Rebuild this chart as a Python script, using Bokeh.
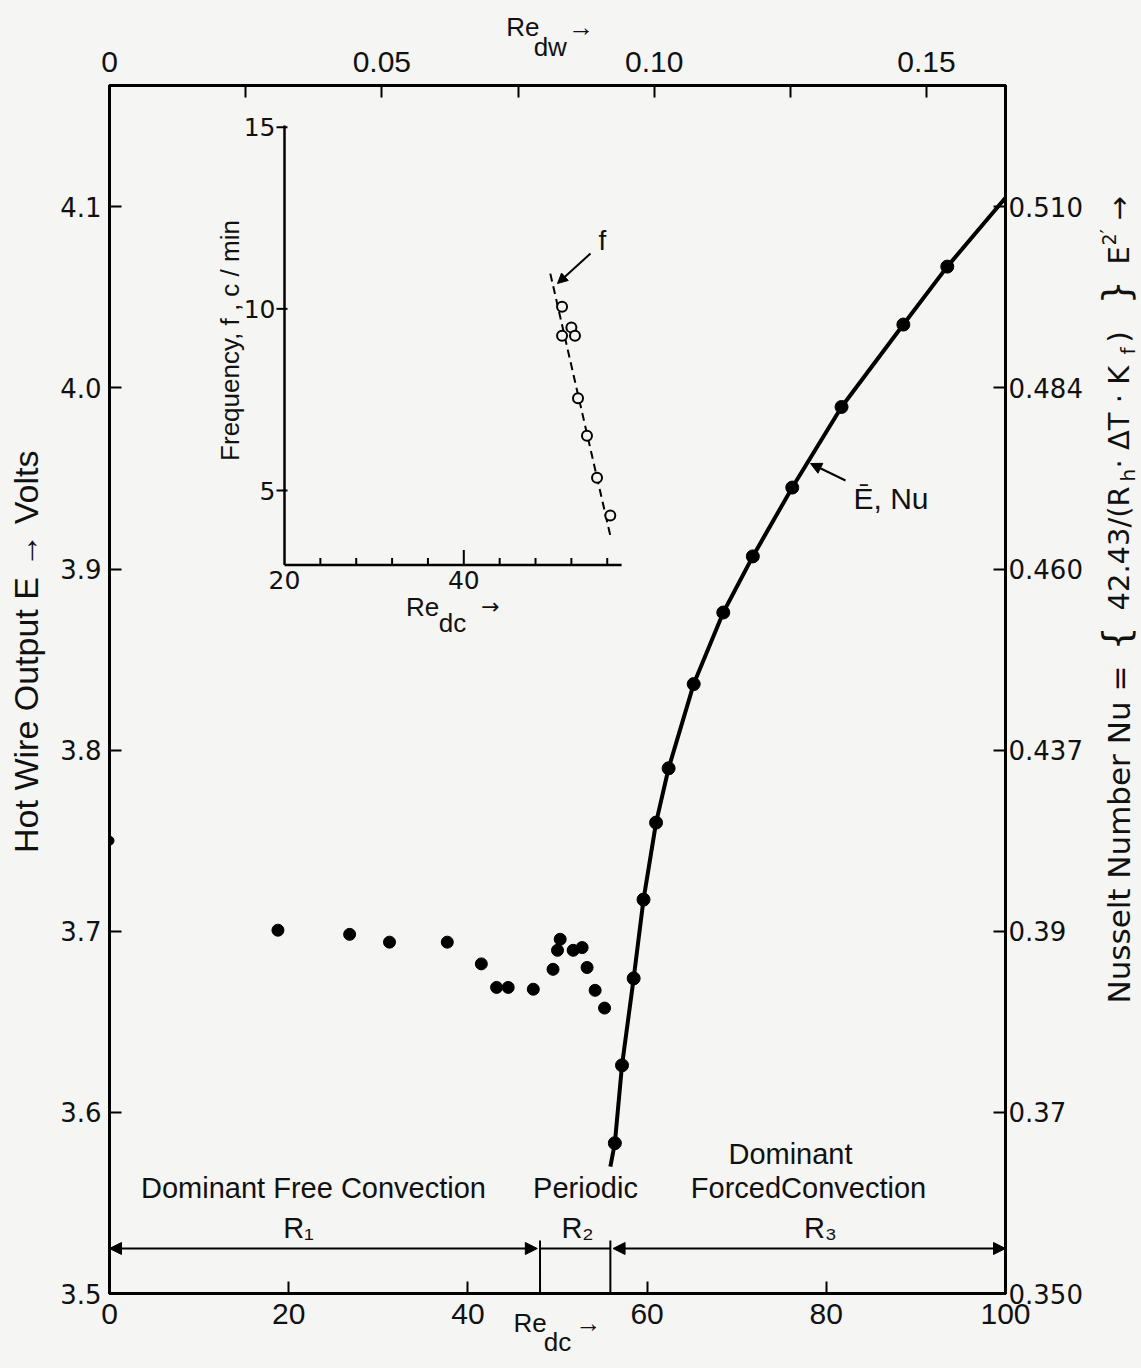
import numpy as np
from bokeh.plotting import figure
from bokeh.layouts import row
from bokeh.models import Range1d, LinearAxis, FixedTicker, Label, Arrow, NormalHead
from bokeh.core.properties import value
from bokeh.embed import file_html
from bokeh.resources import INLINE

# ---------------- data ----------------
re_dc_ticks = [0, 20, 40, 60, 80, 100]
e_ticks = [3.5, 3.6, 3.7, 3.8, 3.9, 4.0, 4.1]
e_labels = ["3.5", "3.6", "3.7", "3.8", "3.9", "4.0", "4.1"]
nu_labels = ["0.350", "0.37", "0.39", "0.437", "0.460", "0.484", "0.510"]
re_dw_ticks = [0, 0.025, 0.05, 0.075, 0.10, 0.125, 0.15]
re_dw_labels = ["0", "", "0.05", "", "0.10", "", "0.15"]

# free-convection / periodic region points (Re_dc, E volts)
free_re = [18.8, 26.8, 31.25, 37.7, 41.5, 43.2, 44.5, 47.3, 49.5, 50.0, 50.3, 51.75, 52.75, 53.3, 54.2, 55.25]
free_e = [3.7006, 3.6983, 3.694, 3.694, 3.682, 3.669, 3.669, 3.668, 3.679, 3.6895, 3.6956, 3.6895, 3.691, 3.680, 3.6674, 3.6576]
# forced-convection points on the mean curve
forced_re = [56.4, 57.2, 58.5, 59.6, 61.0, 62.4, 65.2, 68.5, 71.8, 76.2, 81.7, 88.6, 93.5]
forced_e = [3.583, 3.626, 3.674, 3.7175, 3.760, 3.790, 3.8365, 3.876, 3.907, 3.945, 3.9895, 4.035, 4.067]
# mean curve E-bar, Nu
curve_re = [55.9, 56.4, 57.2, 58.5, 59.6, 61.0, 62.4, 65.2, 68.5, 71.8, 76.2, 81.7, 88.6, 93.5, 100.0]
curve_e = [3.570, 3.583, 3.626, 3.674, 3.7175, 3.760, 3.790, 3.8365, 3.876, 3.907, 3.945, 3.9895, 4.035, 4.067, 4.105]
# point at zero flow
zero_re = [0.0]
zero_e = [3.75]
# regime boundaries (Re_dc)
region_bounds = [0.0, 48.05, 55.9, 100.0]

# inset: frequency vs Re_dc
inset_re = [50.96, 50.96, 52.0, 52.4, 52.74, 53.74, 54.86, 56.34]
inset_f = [10.06, 9.26, 9.49, 9.26, 7.54, 6.51, 5.35, 4.31]
inset_fit_re = [49.65, 56.34]
inset_fit_f = [10.97, 3.76]
inset_x_major = [20, 40]
inset_x_minor = [24, 28, 32, 36, 44, 48, 52, 56]
inset_f_ticks = [5, 10, 15]
inset_x_extent = [20.0, 57.6]
inset_f_extent = [2.95, 15.05]

# ---------------- layout constants ----------------
BG = "#f5f5f3"
W, H = 1141, 1368
PW = 1085                                   # width of the main figure; the rest holds the Nu title
FL, FR, FT, FB = 109, 1005, 85, 1293        # frame edges on the page
X0, X1 = 0.0, 100.0
Y0, Y1 = 3.5, 4.167


def dx(px):
    return X0 + (px - FL) / (FR - FL) * (X1 - X0)


def dy(py):
    return Y0 + (FB - py) / (FB - FT) * (Y1 - Y0)


# inset scale (page px of its ticks)
IX20, IX40 = 284.0, 463.3
IY15, IY5 = 126.7, 490.0
ixp = (40 - 20) / (IX40 - IX20)
iyp = (15 - 5) / (IY5 - IY15)
ix_start = 20 - (IX20 - FL) * ixp
ix_end = 20 + (FR - IX20) * ixp
iy_start = 5 - (FB - IY5) * iyp
iy_end = 5 + (IY5 - FT) * iyp


def ix(px):
    return 20 + (px - IX20) * ixp


def iy(py):
    return 5 + (IY5 - py) * iyp


F_NUM = "DejaVu Sans"
F_TXT = "Liberation Sans"
NB = "\u00a0"

p = figure(width=PW, height=H, x_range=Range1d(X0, X1), y_range=Range1d(Y0, Y1),
           output_backend="svg", toolbar_location=None,
           min_border_left=FL, min_border_right=PW - FR,
           min_border_top=FT, min_border_bottom=H - FB,
           background_fill_color=BG, border_fill_color=BG)
p.grid.visible = False
p.outline_line_color = "black"
p.outline_line_width = 3
p.extra_x_ranges = {"dw": Range1d(0, 0.1645), "ix": Range1d(ix_start, ix_end)}
p.extra_y_ranges = {"iy": Range1d(iy_start, iy_end)}


def style_axis(ax, font, size, standoff):
    ax.axis_line_width = 3
    ax.axis_line_color = "black"
    ax.major_tick_in = 12
    ax.major_tick_out = 0
    ax.major_tick_line_width = 2
    ax.minor_tick_line_color = None
    ax.major_label_text_font = font
    ax.major_label_text_font_size = size
    ax.major_label_text_color = "#111111"
    ax.major_label_standoff = standoff
    ax.axis_label_text_color = "#111111"
    ax.axis_label_text_font_style = "normal"


# bottom axis: Re_dc
bx = p.xaxis[0]
bx.ticker = FixedTicker(ticks=re_dc_ticks)
style_axis(bx, F_TXT, "30px", 10)
bx.axis_label = "Re" + NB * 4 + "→\ndc"
bx.axis_label_text_font = F_TXT
bx.axis_label_text_font_size = "26px"
bx.axis_label_text_line_height = 0.65
bx.axis_label_standoff = -19

# left axis: E volts
ly = p.yaxis[0]
ly.ticker = FixedTicker(ticks=e_ticks)
ly.major_label_overrides = dict(zip(e_ticks, e_labels))
style_axis(ly, F_NUM, "26px", 8)
ly.axis_label = NB * 10 + "Hot Wire Output  E  → Volts"
ly.axis_label_text_font = F_TXT
ly.axis_label_text_font_size = "34px"
ly.axis_label_standoff = 12

# top axis: Re_dw
top = LinearAxis(x_range_name="dw", ticker=FixedTicker(ticks=re_dw_ticks),
                 major_label_overrides=dict(zip(re_dw_ticks, re_dw_labels)))
style_axis(top, F_TXT, "30px", 14)
top.axis_label = "Re" + NB * 4 + "→" + NB * 2 + "\ndw" + NB * 2
top.axis_label_text_font = F_TXT
top.axis_label_text_font_size = "26px"
top.axis_label_text_line_height = 0.65
top.axis_label_standoff = -13
p.add_layout(top, "above")

# right axis: Nusselt number (same E scale, relabelled)
right = LinearAxis(ticker=FixedTicker(ticks=e_ticks),
                   major_label_overrides=dict(zip(e_ticks, nu_labels)))
style_axis(right, F_NUM, "26px", 3)
p.add_layout(right, "right")

# ---------------- main data ----------------
p.line(curve_re, curve_e, line_width=4, color="black")
p.scatter(forced_re, forced_e, size=13, color="black")
p.scatter(free_re, free_e, size=12, color="black")
p.scatter(zero_re, zero_e, size=9, color="black")

# regime markers
y_arrow = dy(1248)
y_vtop = dy(1240)
p.segment(x0=region_bounds[1:3], y0=[Y0, Y0], x1=region_bounds[1:3], y1=[y_vtop, y_vtop],
          line_width=2, color="black")
p.segment(x0=[region_bounds[1]], y0=[y_arrow], x1=[region_bounds[2]], y1=[y_arrow],
          line_width=2, color="black")
for a, b in [(region_bounds[0], region_bounds[1] - 0.3), (region_bounds[2] + 0.3, region_bounds[3])]:
    p.add_layout(Arrow(x_start=a, y_start=y_arrow, x_end=b, y_end=y_arrow, line_width=2,
                       start=NormalHead(size=12, fill_color="black", line_color="black"),
                       end=NormalHead(size=12, fill_color="black", line_color="black")))


def lab(fig, x, y, text, font=F_TXT, size="29px", align="center", baseline="middle", angle=0.0, **kw):
    fig.add_layout(Label(x=x, y=y, text=text, text_font=font, text_font_size=size,
                         text_align=align, text_baseline=baseline, angle=angle,
                         text_color="#111111", **kw))


lab(p, dx(313), dy(1187), "Dominant Free Convection")
lab(p, dx(585), dy(1187), "Periodic")
lab(p, dx(790), dy(1153), "Dominant")
lab(p, dx(808), dy(1187), "ForcedConvection")
lab(p, dx(298), dy(1227), "R₁")
lab(p, dx(577), dy(1227), "R₂")
lab(p, dx(820), dy(1227), "R₃")

# E-bar, Nu callout
p.add_layout(Arrow(x_start=dx(845), y_start=dy(480), x_end=dx(810), y_end=dy(463), line_width=2,
                   end=NormalHead(size=11, fill_color="black", line_color="black")))
lab(p, dx(853), dy(498), "Ē, Nu", size="30px", align="left", baseline="alphabetic")

# ---------------- inset ----------------
IR = dict(x_range_name="ix", y_range_name="iy")
xa, xb = inset_x_extent
fa, fb = inset_f_extent
p.segment(x0=[xa, xa], y0=[fa, fa], x1=[xa, xb], y1=[fb, fa], line_width=2.5, color="black", **IR)
p.segment(x0=inset_x_minor, y0=[fa] * len(inset_x_minor), x1=inset_x_minor,
          y1=[fa + 7 * iyp] * len(inset_x_minor), line_width=2, color="black", **IR)
p.segment(x0=inset_x_major[1:], y0=[fa], x1=inset_x_major[1:], y1=[fa + 15 * iyp],
          line_width=2, color="black", **IR)
p.segment(x0=[xa - 8 * ixp] * len(inset_f_ticks), y0=inset_f_ticks,
          x1=[xa + 3 * ixp] * len(inset_f_ticks), y1=inset_f_ticks, line_width=2, color="black", **IR)
p.text(x=inset_x_major, y=[fa] * len(inset_x_major), text=[str(v) for v in inset_x_major],
       text_align="center", text_baseline="top", y_offset=6, text_font=value(F_NUM),
       text_font_size="25px", text_color="#111111", **IR)
p.text(x=[xa] * len(inset_f_ticks), y=inset_f_ticks, text=[str(v) for v in inset_f_ticks],
       text_align="right", text_baseline="middle", x_offset=-9, text_font=value(F_NUM),
       text_font_size="25px", text_color="#111111", **IR)

p.line(inset_fit_re, inset_fit_f, line_dash="8 5", line_width=2, color="black", **IR)
p.scatter(inset_re, inset_f, size=10, fill_color=BG, line_color="black", line_width=2, **IR)
p.add_layout(Arrow(x_start=ix(590), y_start=iy(253), x_end=ix(557), y_end=iy(283), line_width=2,
                   end=NormalHead(size=10, fill_color="black", line_color="black"), **IR))
lab(p, ix(602), iy(240), "f", size="28px", **IR)

lab(p, ix(229), iy(340), "Frequency, f , c / min", size="26px", angle=np.pi / 2, **IR)
lab(p, ix(422), iy(606), "Re", size="26px", **IR)
lab(p, ix(452), iy(622), "dc", size="26px", **IR)
lab(p, ix(490), iy(606), "→", font=F_NUM, size="22px", **IR)

# ---------------- right-hand title strip (Nusselt number definition) ----------------
# its frame is aligned with the main frame (rows align plot frames), so page y == data y here
p2 = figure(width=W - PW, height=H, x_range=Range1d(PW, W), y_range=Range1d(FB, FT),
            x_axis_type=None, y_axis_type=None, output_backend="svg", toolbar_location=None,
            min_border=0, background_fill_color=BG, border_fill_color=BG)
p2.outline_line_color = None
RX = 1118
A90 = np.pi / 2
nu_parts = [
    ("Nusselt Number Nu =", RX, 1003, "31px", "left"),
    ("{", RX - 3, 638, "38px", "center"),
    ("42.43/(R", RX, 610, "29px", "left"),
    ("h", RX + 9, 481, "20px", "left"),
    ("· ΔT · K", RX, 468, "29px", "left"),
    ("f", RX + 9, 354, "20px", "left"),
    (")", RX, 342, "29px", "left"),
    ("}", RX - 3, 292, "38px", "center"),
    ("E", RX, 264, "29px", "left"),
    ("2", RX - 10, 245, "19px", "left"),
    ("′", RX - 12, 233, "20px", "left"),
    ("→", RX, 220, "29px", "left"),
]
for t, x, y, s, al in nu_parts:
    lab(p2, x, y, t, font=F_NUM, size=s, align=al, angle=A90)

layout = row(p, p2)
layout.styles = {"background-color": BG}
open("out.html", "w").write(file_html(layout, INLINE))
